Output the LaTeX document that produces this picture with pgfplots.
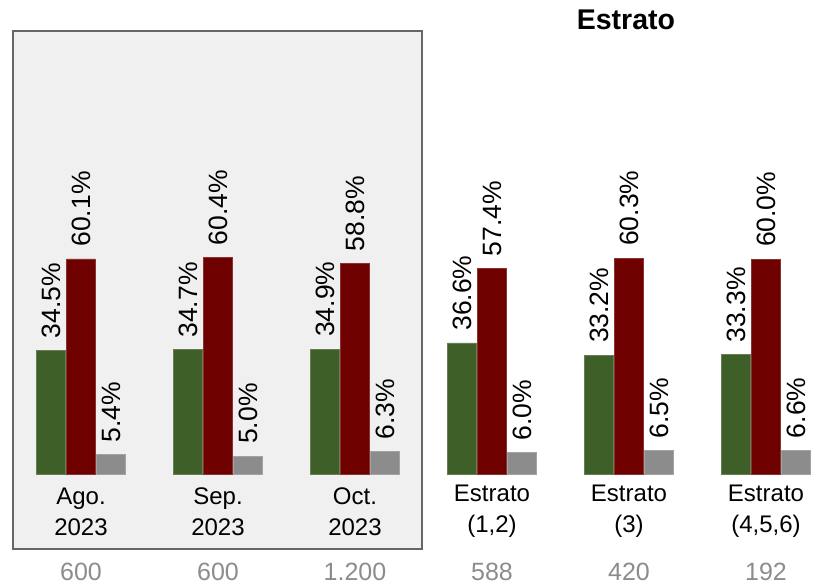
\documentclass[border=0pt]{standalone}
\usepackage{pgfplots}
\pgfplotsset{compat=1.18}
\usepackage{fontspec}
\setmainfont{Liberation Sans}
\definecolor{cgreen}{HTML}{3F5F28}
\definecolor{cred}{HTML}{6E0000}
\definecolor{cgray}{HTML}{8C8C8C}
\definecolor{cbox}{HTML}{F0F0F0}
\definecolor{cboxline}{HTML}{666666}
\definecolor{ccount}{HTML}{8C8C8C}
\tikzset{
  lbl/.style={align=center, font=\fontsize{24}{31}\selectfont, inner sep=0pt},
  cnt/.style={font=\fontsize{25}{27}\selectfont, text=ccount, inner sep=0pt},
}
\begin{document}
\begin{tikzpicture}
\begin{axis}[
  scale only axis, width=829pt, height=586pt,
  hide axis,
  xmin=-0.5912, xmax=5.4599,
  ymin=-31.285, ymax=132.402,
  ybar, bar width=28.5pt,
  clip=false,
  /pgf/number format/assume math mode=true,
  nodes near coords={\pgfmathprintnumber[fixed,fixed zerofill,precision=1]{\pgfplotspointmeta}\%},
  every node near coord/.append style={rotate=90, anchor=west, inner xsep=12pt, inner ysep=0pt, font=\fontsize{26.5}{26.5}\selectfont, text=black},
]
\fill[cbox, draw=cboxline, line width=2.2pt] (axis cs:-0.4964,123.74) rectangle (axis cs:2.4891,-20.95);
\addplot[fill=cgreen, draw=cgreen!80!white, line width=0.6pt, bar shift=-30pt] coordinates {(0,34.5) (1,34.7) (2,34.9) (3,36.6) (4,33.2) (5,33.3)};
\addplot[fill=cred, draw=cred!80!white, line width=0.6pt, bar shift=0pt] coordinates {(0,60.1) (1,60.4) (2,58.8) (3,57.4) (4,60.3) (5,60.0)};
\addplot[fill=cgray, draw=cgray!80!white, line width=0.6pt, bar shift=30pt] coordinates {(0,5.4) (1,5.0) (2,6.3) (3,6.0) (4,6.5) (5,6.6)};
\node[lbl] at (axis cs:0,-10.47) {Ago.\\2023};
\node[lbl] at (axis cs:1,-10.47) {Sep.\\2023};
\node[lbl] at (axis cs:2,-10.47) {Oct.\\2023};
\node[lbl] at (axis cs:3,-10.47) {Estrato\\(1,2)};
\node[lbl] at (axis cs:4,-10.47) {Estrato\\(3)};
\node[lbl] at (axis cs:5,-10.47) {Estrato\\(4,5,6)};
\node[cnt] at (axis cs:0,-27.4) {600};
\node[cnt] at (axis cs:1,-27.4) {600};
\node[cnt] at (axis cs:2,-27.4) {1.200};
\node[cnt] at (axis cs:3,-27.4) {588};
\node[cnt] at (axis cs:4,-27.4) {420};
\node[cnt] at (axis cs:5,-27.4) {192};
\node[font=\bfseries\fontsize{28.5}{30}\selectfont, inner sep=0pt] at (axis cs:3.978,126.8) {Estrato};
\end{axis}
\pgfresetboundingbox
\path (current axis.south west) rectangle (current axis.north east);
\end{tikzpicture}
\end{document}
